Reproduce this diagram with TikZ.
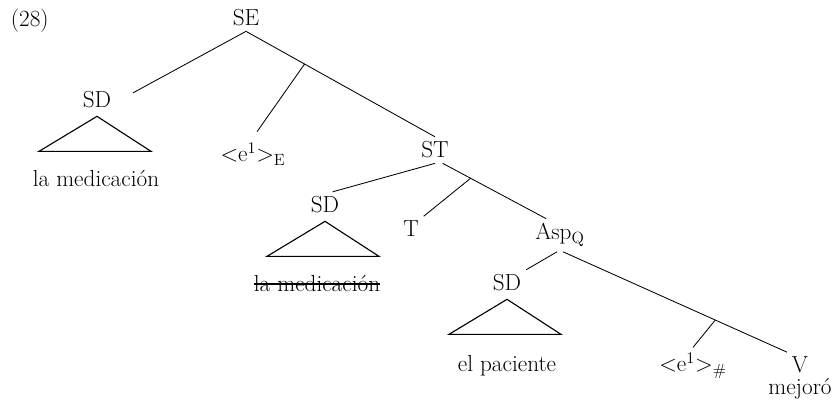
\documentclass[tikz,border=0pt]{standalone}

\newcommand{\roofunder}[1]{\draw[roof] ([shift={(0,3)}]#1.south) -- ++(-58,35) -- ++(112,0) -- cycle;}

\begin{document}
\begin{tikzpicture}[x=0.025cm, y=-0.025cm,
    every node/.style={anchor=base, font=\fontsize{16.5}{19}\selectfont},
    branch/.style={line width=0.6pt},
    roof/.style={line width=0.8pt}]
    \useasboundingbox (0,0) rectangle (835,405);

    % Example number
    \node[anchor=base west] (num) at (6,27) {(28)};

    % Root node
    \node (se) at (246,26) {SE};

    % Second stage nodes
    \node (sd1) at (97,108) {SD};
    \node (med1) at (96,187) {la medicación};
    \node (e1E) at (253,162) {<e\textsuperscript{1}>\textsubscript{E}};
    \node (st) at (435,158) {ST};
    \draw[branch] (se.south) -- ([shift={(17,6)}]sd1.north east);
    \draw[branch] (se.south) -- (st.north) coordinate[pos=0.31] (seMid);
    \draw[branch, shorten >=5pt] (seMid) -- (e1E.north);
    \roofunder{sd1}

    % Third stage nodes
    \node (sd2) at (325,213) {SD};
    \node[inner sep=0pt] (med2) at (317,292) {la medicación};
    \node (t) at (411,237) {T};
    \node (asp) at (560,240) {Asp\textsubscript{Q}};
    \draw[branch] (st.south) -- (sd2.60);
    \draw[branch] (st.-60) -- (asp.130) coordinate[pos=0.27] (stMid);
    \draw[branch] (stMid) -- (t.north east);
    \roofunder{sd2}
    \draw[line width=1pt] ([shift={(0,-8)}]med2.base west) -- ([shift={(0,-8)}]med2.base east);

    % Fourth stage nodes
    \node (sd3) at (507,291) {SD};
    \node (pac) at (507,372) {el paciente};
    \node (e1h) at (693,372) {<e\textsuperscript{1}>\textsubscript{\#}};
    \node (v) at (800,373) {V};
    \node (mej) at (800,395) {mejoró};
    \draw[branch] (asp.-100) -- (sd3.north east);
    \draw[branch] (asp.-80) -- (v.north west) coordinate[pos=0.68] (aspMid);
    \draw[branch] (aspMid) -- (e1h.north);
    \roofunder{sd3}
\end{tikzpicture}
\end{document}
